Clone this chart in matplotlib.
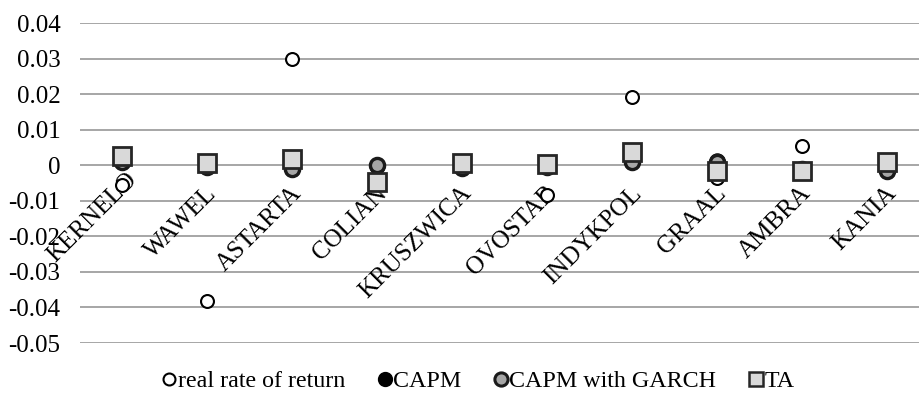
import matplotlib
matplotlib.use("Agg")
import matplotlib.pyplot as plt
from matplotlib.lines import Line2D
from matplotlib.transforms import offset_copy

companies = ["KERNELO", "WAWEL", "ASTARTA", "COLIAN", "KRUSZWICA",
             "OVOSTAB", "INDYKPOL", "GRAAL", "AMBRA", "KANIA"]
real_return = [-0.0056, -0.0381, 0.0298, -0.0040, 0.0000,
               -0.0084, 0.0191, -0.0037, 0.0054, 0.0005]
capm = [0.0010, -0.0004, -0.0010, -0.0002, -0.0008,
        -0.0006, 0.0008, 0.0011, -0.0010, -0.0015]
capm_garch = [0.0008, -0.0004, -0.0010, 0.0000, -0.0008,
              -0.0006, 0.0008, 0.0010, -0.0010, -0.0015]
ta = [0.0025, 0.0006, 0.0017, -0.0047, 0.0006,
      0.0004, 0.0037, -0.0017, -0.0015, 0.0008]
yticks = [0.04, 0.03, 0.02, 0.01, 0.0, -0.01, -0.02, -0.03, -0.04, -0.05]
ytick_labels = ["0.04", "0.03", "0.02", "0.01", "0", "-0.01", "-0.02",
                "-0.03", "-0.04", "-0.05"]

plt.rcParams["font.family"] = ["Liberation Serif", "DejaVu Serif"]
FS = 18

fig = plt.figure(figsize=(9.19, 4.04), dpi=100)
ax = fig.add_axes([80 / 919, (404 - 343) / 404, 1 - 80 / 919, 320 / 404])

x = list(range(len(companies)))
ax.set_xlim(-0.5, 9.376)
ax.set_ylim(-0.05, 0.04)

for y in yticks:
    ax.axhline(y, color="#a6a6a6", lw=1.4, zorder=0)

ax.set_yticks(yticks)
ax.set_yticklabels(ytick_labels, fontsize=FS)
ax.tick_params(axis="y", length=0, pad=14)
ax.set_xticks([])
for s in ax.spines.values():
    s.set_visible(False)

# category labels hanging from the zero line
for i, name in enumerate(companies):
    dx, dy = (3, -3) if i == 0 else (-2, -17)
    tr = offset_copy(ax.transData, fig=fig, x=dx, y=dy, units="dots")
    ax.text(i, 0, name, rotation=45, rotation_mode="anchor",
            ha="right", va="top", fontsize=FS, transform=tr, zorder=1)

ax.plot(x, real_return, ls="none", marker="o", ms=9.3, mfc="white",
        mec="black", mew=1.5, zorder=3, clip_on=False)
ax.plot(x, capm, ls="none", marker="o", ms=10.2, mfc="black",
        mec="black", mew=1.6, zorder=4, clip_on=False)
ax.plot(x, capm_garch, ls="none", marker="o", ms=10.2, mfc="#a6a6a6",
        mec="#1a1a1a", mew=2.4, zorder=5, clip_on=False)
ax.plot(x, ta, ls="none", marker="s", ms=13, mfc="#d9d9d9",
        mec="#262626", mew=2.0, zorder=6, clip_on=False)

handles = [
    Line2D([], [], ls="none", marker="o", ms=8.6, mfc="white", mec="black", mew=1.5),
    Line2D([], [], ls="none", marker="o", ms=9.5, mfc="black", mec="black", mew=1.5),
    Line2D([], [], ls="none", marker="o", ms=9.5, mfc="#a6a6a6", mec="#1a1a1a", mew=2.2),
    Line2D([], [], ls="none", marker="s", ms=9.5, mfc="#d9d9d9", mec="#262626", mew=1.8),
]
labels = ["real rate of return", "CAPM", "CAPM with GARCH", "TA"]
fig.legend(handles, labels, loc="center", bbox_to_anchor=(0.521, 23 / 404),
           ncol=4, frameon=False, fontsize=17.3, handlelength=0.5,
           handletextpad=0.1, columnspacing=1.4, borderpad=0)

fig.savefig("out.png", dpi=100)
